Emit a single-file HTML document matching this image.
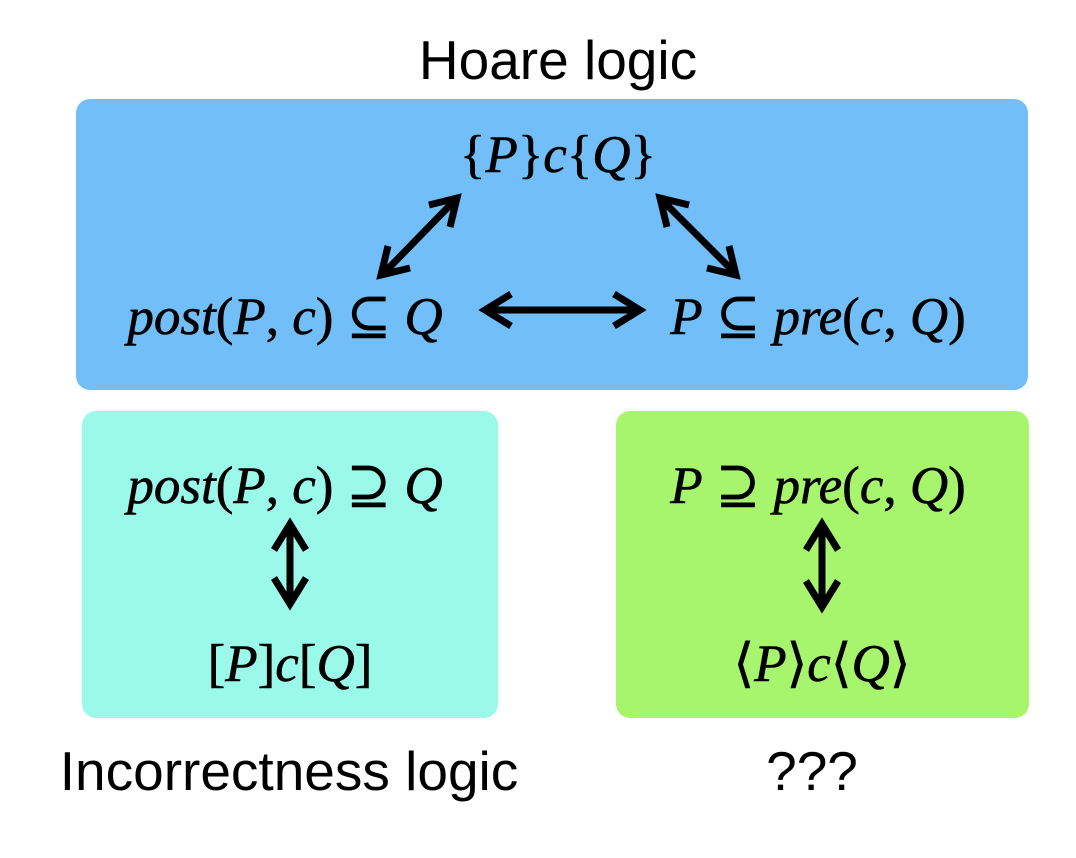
<!DOCTYPE html>
<html><head><meta charset="utf-8"><style>
html,body{margin:0;padding:0;background:#fff;}
svg{display:block;}
.m{font-family:"Liberation Serif","DejaVu Serif",serif;font-size:53px;fill:#000;stroke:#000;stroke-width:0.6px;}
.i{font-style:italic;}
.s{font-family:"Liberation Sans",sans-serif;font-size:55px;fill:#000;}
</style></head><body>
<svg width="1076" height="858" viewBox="0 0 1076 858" xmlns="http://www.w3.org/2000/svg">
<rect x="76" y="99" width="952" height="291" rx="14" fill="#72BEF8"/>
<rect x="82" y="411" width="416" height="307" rx="14" fill="#9BF9EA"/>
<rect x="616" y="411" width="413" height="307" rx="14" fill="#A7F56C"/>

<text class="s" x="558" y="79" text-anchor="middle">Hoare logic</text>
<text class="s" x="289" y="790" text-anchor="middle">Incorrectness logic</text>
<text class="s" x="812" y="790" text-anchor="middle">???</text>

<text class="m" x="558" y="172" text-anchor="middle">{<tspan class="i">P</tspan>}<tspan class="i">c</tspan>{<tspan class="i">Q</tspan>}</text>
<text class="m" x="285" y="334" text-anchor="middle"><tspan class="i">post</tspan>(<tspan class="i">P</tspan>, <tspan class="i">c</tspan>) ⊆ <tspan class="i">Q</tspan></text>
<text class="m" x="818" y="334" text-anchor="middle"><tspan class="i">P</tspan> ⊆ <tspan class="i">pre</tspan>(<tspan class="i">c</tspan>, <tspan class="i">Q</tspan>)</text>
<text class="m" x="285" y="503" text-anchor="middle"><tspan class="i">post</tspan>(<tspan class="i">P</tspan>, <tspan class="i">c</tspan>) ⊇ <tspan class="i">Q</tspan></text>
<text class="m" x="818" y="503" text-anchor="middle"><tspan class="i">P</tspan> ⊇ <tspan class="i">pre</tspan>(<tspan class="i">c</tspan>, <tspan class="i">Q</tspan>)</text>
<text class="m" x="290" y="681" text-anchor="middle">[<tspan class="i">P</tspan>]<tspan class="i">c</tspan>[<tspan class="i">Q</tspan>]</text>
<text class="m" x="822" y="681" text-anchor="middle">⟨<tspan class="i">P</tspan>⟩<tspan class="i">c</tspan>⟨<tspan class="i">Q</tspan>⟩</text>

<g stroke="#000" stroke-width="7" fill="none" stroke-linecap="butt" stroke-linejoin="miter">
<line x1="383" y1="274" x2="457" y2="198"/>
<polyline points="429,205 457,198 450,227"/>
<polyline points="388,246 381,275 410,268"/>
<line x1="660" y1="198" x2="736" y2="274"/>
<polyline points="667,227 660,198 689,205"/>
<polyline points="707,268 736,275 729,246"/>
<line x1="485" y1="310" x2="640" y2="310"/>
<polyline points="511,294 485,310 511,326"/>
<polyline points="614,294 640,310 614,326"/>
<line x1="290" y1="524" x2="290" y2="604"/>
<polyline points="274,550 290,524 306,550"/>
<polyline points="274,578 290,604 306,578"/>
<line x1="822" y1="524" x2="822" y2="607"/>
<polyline points="806,550 822,524 838,550"/>
<polyline points="806,581 822,607 838,581"/>
</g>
</svg>
</body></html>
